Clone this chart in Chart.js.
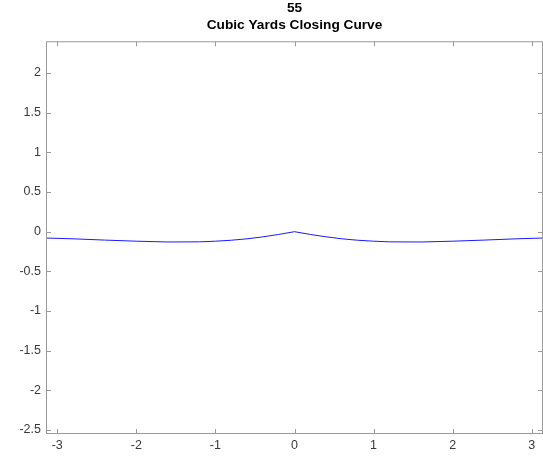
<!DOCTYPE html>
<html>
<head>
<meta charset="utf-8">
<script src="https://cdn.jsdelivr.net/npm/chart.js@4"></script>
<style>
  html, body { margin: 0; padding: 0; background: #fff; }
  #wrap { position: relative; width: 543px; height: 456px; }
</style>
</head>
<body>
<div id="wrap"><canvas id="c"></canvas></div>
<script>
// closing curve (symmetric about 0)
const xs = [-3.1416, -2.8, -2.4, -2.0, -1.6, -1.2, -1.0, -0.8, -0.6, -0.4, -0.2, 0,
            0.2, 0.4, 0.6, 0.8, 1.0, 1.2, 1.6, 2.0, 2.4, 2.8, 3.1416];
const ys = [-0.080, -0.090, -0.106, -0.120, -0.130, -0.128, -0.120, -0.108, -0.090, -0.065, -0.035, 0,
            -0.035, -0.065, -0.090, -0.108, -0.120, -0.128, -0.130, -0.120, -0.106, -0.090, -0.080];
const xTicks = [-3, -2, -1, 0, 1, 2, 3];
const yTicks = [-2.5, -2, -1.5, -1, -0.5, 0, 0.5, 1, 1.5, 2];
const titleLines = ['55', 'Cubic Yards Closing Curve'];

const AXIS = '#9a9a9a';
const TEXT = '#3a3a3a';
const FONT = "'Liberation Sans', Arial, sans-serif";

// box around the axes + inward ticks on all four sides, matlab style
const boxTicks = {
  id: 'boxTicks',
  afterDatasetsDraw(chart) {
    const { ctx, chartArea: a, scales: { x, y } } = chart;
    const L = 5;
    ctx.save();
    ctx.strokeStyle = AXIS;
    ctx.lineWidth = 1;
    ctx.strokeRect(a.left + 0.5, a.top + 0.5, a.right - a.left - 1, a.bottom - a.top - 1);
    ctx.beginPath();
    xTicks.forEach(v => {
      const px = Math.round(x.getPixelForValue(v)) + 0.5;
      ctx.moveTo(px, a.bottom); ctx.lineTo(px, a.bottom - L);
      ctx.moveTo(px, a.top); ctx.lineTo(px, a.top + L);
    });
    yTicks.forEach(v => {
      const py = Math.round(y.getPixelForValue(v)) + 0.5;
      ctx.moveTo(a.left, py); ctx.lineTo(a.left + L, py);
      ctx.moveTo(a.right, py); ctx.lineTo(a.right - L, py);
    });
    ctx.stroke();
    ctx.restore();
  },
};

new Chart(document.getElementById('c'), {
  type: 'line',
  data: {
    datasets: [{
      data: xs.map((v, i) => ({ x: v, y: ys[i] })),
      borderColor: '#1a1aff',
      borderWidth: 1,
      pointRadius: 0,
      tension: 0,
      fill: false,
    }],
  },
  options: {
    responsive: true,
    maintainAspectRatio: false,
    animation: false,
    layout: { padding: 0 },
    plugins: {
      legend: { display: false },
      tooltip: { enabled: false },
      title: {
        display: true,
        text: titleLines,
        fullSize: false,
        color: '#000',
        font: { family: FONT, size: 13.7, weight: 'bold', lineHeight: 1.25 },
        padding: { top: 0, bottom: 7 },
      },
    },
    scales: {
      x: {
        type: 'linear',
        min: -Math.PI,
        max: Math.PI,
        afterBuildTicks: s => { s.ticks = xTicks.map(v => ({ value: v })); },
        afterFit: s => { s.height = 22; },
        grid: { display: false, drawTicks: false },
        border: { display: false },
        ticks: {
          color: TEXT,
          padding: 4,
          maxRotation: 0,
          font: { family: FONT, size: 12.5 },
          callback: v => String(v),
        },
      },
      y: {
        type: 'linear',
        min: -2.55,
        max: 2.4,
        afterBuildTicks: s => { s.ticks = yTicks.map(v => ({ value: v })); },
        afterFit: s => { s.width = 46; },
        grid: { display: false, drawTicks: false },
        border: { display: false },
        ticks: {
          color: TEXT,
          padding: 5,
          font: { family: FONT, size: 12.5 },
          callback: v => String(v),
        },
      },
    },
  },
  plugins: [boxTicks],
});
</script>
</body>
</html>
